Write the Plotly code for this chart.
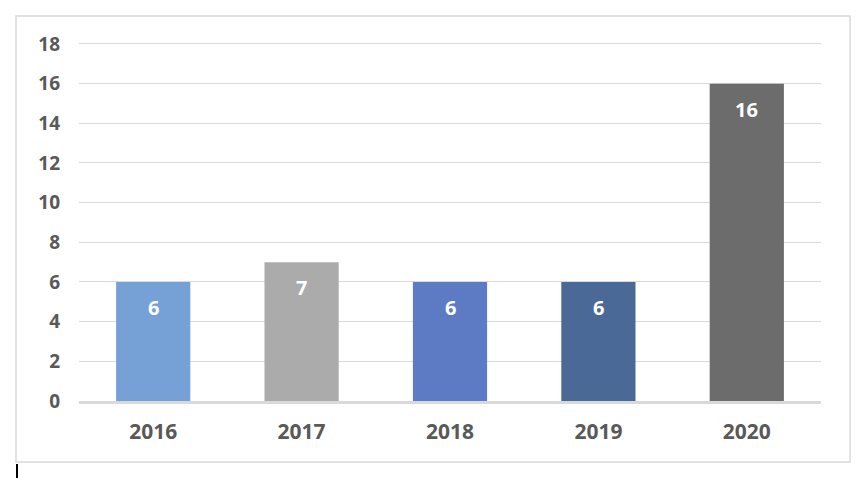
import plotly.graph_objects as go

years = ["2016", "2017", "2018", "2019", "2020"]
values = [6, 7, 6, 6, 16]
bar_colors = ["#76a1d7", "#ababab", "#5c7bc4", "#4a6996", "#6c6c6c"]
y_ticks = [0, 2, 4, 6, 8, 10, 12, 14, 16, 18]

W, H = 856, 478
L, R, T, B = 79, 35, 40, 77
PW, PH = W - L - R, H - T - B


def px_x(x):
    return (x - L) / PW


def px_y(y):
    return (H - B - y) / PH


FONT = "Open Sans"
fig = go.Figure()
fig.add_trace(go.Bar(
    x=years, y=values,
    marker=dict(color=bar_colors, line=dict(width=0)),
    hoverinfo="skip",
))

for i, v in enumerate(values):
    fig.add_annotation(
        x=i, y=v, xref="x", yref="y", text=f"<b>{v}</b>", showarrow=False,
        yanchor="top", yshift=-10,
        font=dict(family=FONT, size=20, color="white"),
    )

shapes = [
    dict(type="rect", xref="paper", yref="paper",
         x0=px_x(16), x1=px_x(850), y0=px_y(462), y1=px_y(16),
         line=dict(color="#d9d9d9", width=1.5), fillcolor="rgba(0,0,0,0)", layer="below"),
    dict(type="line", xref="paper", yref="paper",
         x0=px_x(17), x1=px_x(17), y0=px_y(464), y1=px_y(478),
         line=dict(color="black", width=2)),
]

fig.update_layout(
    width=W, height=H,
    margin=dict(l=L, r=R, t=T, b=B, pad=0),
    paper_bgcolor="white", plot_bgcolor="white",
    showlegend=False,
    bargap=0.5,
    shapes=shapes,
    font=dict(family=FONT, color="#595959"),
    xaxis=dict(
        type="category", categoryarray=years, range=[-0.5, len(years) - 0.5],
        showgrid=False, showline=True,
        linecolor="#d9d9d9", linewidth=2.5, ticks="",
        tickfont=dict(family=FONT, size=21, color="#595959", weight="bold"),
        ticklabelstandoff=10, fixedrange=True,
    ),
    yaxis=dict(
        range=[0, 18.2], tickvals=y_ticks, showgrid=True,
        gridcolor="#d9d9d9", gridwidth=1.3, zeroline=False, showline=False,
        ticks="", tickfont=dict(family=FONT, size=19, color="#595959", weight="bold"),
        ticklabelstandoff=18, fixedrange=True,
    ),
)

fig.write_html("out.html", config={"displayModeBar": False},
               post_script="document.body.style.margin='0';")
